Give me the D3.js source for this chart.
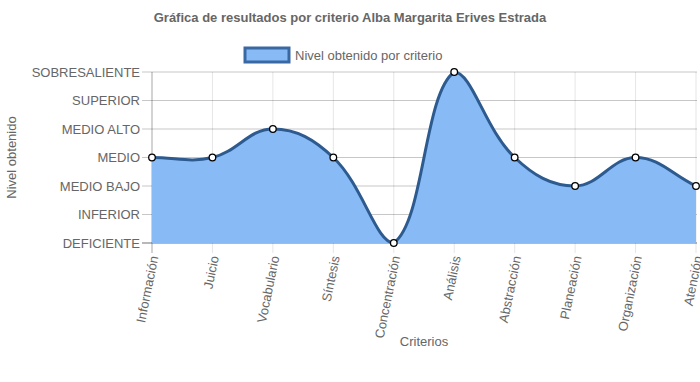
<!DOCTYPE html>
<html><head><meta charset="utf-8">
<script src="https://cdn.jsdelivr.net/npm/d3@7"></script>
<style>body{margin:0;background:#fff}svg{display:block;font-family:"Liberation Sans",Arial,Helvetica,sans-serif}</style>
</head><body><svg id="c" width="700" height="382"></svg>
<script>
const title = "Gráfica de resultados por criterio Alba Margarita Erives Estrada";
const seriesName = "Nivel obtenido por criterio";
const levels = ["DEFICIENTE","INFERIOR","MEDIO BAJO","MEDIO","MEDIO ALTO","SUPERIOR","SOBRESALIENTE"];
const categories = ["Información","Juicio","Vocabulario","Síntesis","Concentración","Análisis","Abstracción","Planeación","Organización","Atención"];
const values = ["MEDIO","MEDIO","MEDIO ALTO","MEDIO","DEFICIENTE","SOBRESALIENTE","MEDIO","MEDIO BAJO","MEDIO","MEDIO BAJO"];

const svg = d3.select("#c");
const L = 152, R = 696, T = 72, B = 243;
const x = d3.scalePoint().domain(categories).range([L, R]);
const y = d3.scalePoint().domain(levels).range([B, T]);
const txt = "#666";

// gridlines
const g = svg.append("g");
categories.forEach(c => {
  g.append("line").attr("x1", x(c)).attr("x2", x(c)).attr("y1", T).attr("y2", B + 10)
    .attr("stroke", "rgba(0,0,0,0.1)");
});
levels.forEach(l => {
  g.append("line").attr("x1", L - 10).attr("x2", R + 1).attr("y1", y(l)).attr("y2", y(l))
    .attr("stroke", "rgba(0,0,0,0.22)");
});
g.append("line").attr("x1", L).attr("x2", L).attr("y1", T).attr("y2", B + 10).attr("stroke", "rgba(0,0,0,0.25)");
g.append("line").attr("x1", L - 10).attr("x2", R + 1).attr("y1", B).attr("y2", B).attr("stroke", "rgba(0,0,0,0.25)").attr("stroke-width", 1.5);

// spline like Chart.js (tension 0.4, capped to area)
const pts = categories.map((c, i) => [x(c), y(values[i])]);
const t = 0.4;
const cap = (p) => [Math.max(L, Math.min(R, p[0])), Math.max(T, Math.min(B, p[1]))];
const ctrl = pts.map((m, i) => {
  const p = pts[Math.max(0, i - 1)], a = pts[Math.min(pts.length - 1, i + 1)];
  const d01 = Math.hypot(m[0] - p[0], m[1] - p[1]);
  const d12 = Math.hypot(a[0] - m[0], a[1] - m[1]);
  let s01 = d01 / (d01 + d12), s12 = d12 / (d01 + d12);
  if (isNaN(s01)) s01 = 0; if (isNaN(s12)) s12 = 0;
  const fa = t * s01, fb = t * s12;
  return {
    prev: cap([m[0] - fa * (a[0] - p[0]), m[1] - fa * (a[1] - p[1])]),
    next: cap([m[0] + fb * (a[0] - p[0]), m[1] + fb * (a[1] - p[1])])
  };
});
function buildLine(path) {
  path.moveTo(pts[0][0], pts[0][1]);
  for (let i = 1; i < pts.length; i++) {
    const c1 = ctrl[i - 1].next, c2 = ctrl[i].prev;
    path.bezierCurveTo(c1[0], c1[1], c2[0], c2[1], pts[i][0], pts[i][1]);
  }
  return path;
}
const area = buildLine(d3.path());
area.lineTo(pts[pts.length - 1][0], B);
area.lineTo(pts[0][0], B);
area.closePath();
svg.append("path").attr("d", area.toString()).attr("fill", "#88baf6");
svg.append("path").attr("d", buildLine(d3.path()).toString()).attr("fill", "none")
  .attr("stroke", "#2e5b8f").attr("stroke-width", 3);
svg.selectAll("circle.pt").data(pts).join("circle").attr("class", "pt")
  .attr("cx", d => d[0]).attr("cy", d => d[1]).attr("r", 3.3)
  .attr("fill", "#fff").attr("stroke", "#000").attr("stroke-width", 1.3);

// y labels
levels.forEach(l => {
  svg.append("text").attr("x", L - 12).attr("y", y(l)).attr("dy", "0.35em")
    .attr("text-anchor", "end").attr("font-size", 13).attr("fill", txt).text(l);
});
// x labels
categories.forEach(c => {
  svg.append("text").attr("transform", `translate(${x(c) + 2},${B + 13}) rotate(-78.5)`)
    .attr("dy", "0.35em").attr("text-anchor", "end").attr("font-size", 13).attr("fill", txt).text(c);
});
// axis titles
svg.append("text").attr("transform", `translate(16,${(T + B) / 2}) rotate(-90)`)
  .attr("text-anchor", "middle").attr("font-size", 13).attr("fill", txt).text("Nivel obtenido");
svg.append("text").attr("x", (L + R) / 2).attr("y", 346).attr("text-anchor", "middle")
  .attr("font-size", 13).attr("fill", txt).text("Criterios");
// title
svg.append("text").attr("x", 350).attr("y", 22).attr("text-anchor", "middle")
  .attr("font-size", 13).attr("font-weight", "bold").attr("fill", txt).text(title);
// legend
svg.append("rect").attr("x", 245).attr("y", 48).attr("width", 44).attr("height", 14)
  .attr("fill", "#88baf6").attr("stroke", "#3a68a3").attr("stroke-width", 3);
svg.append("text").attr("x", 295).attr("y", 59.5).attr("font-size", 13).attr("fill", txt).text(seriesName);
</script></body></html>
